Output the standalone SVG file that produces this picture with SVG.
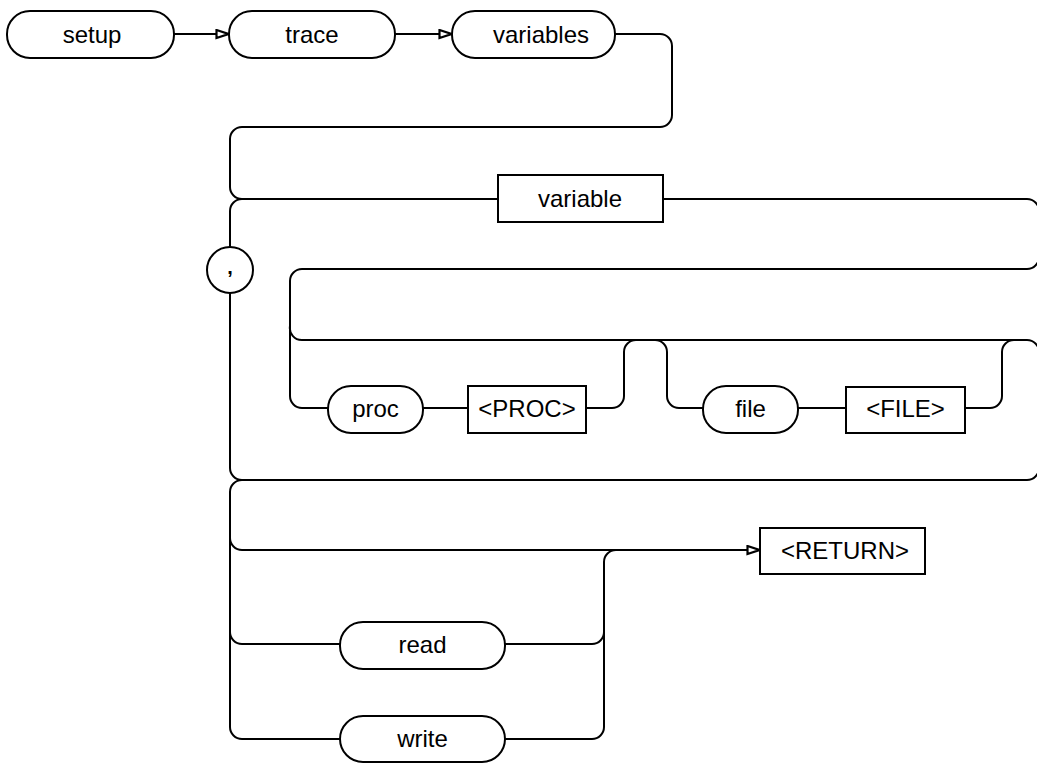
<svg xmlns="http://www.w3.org/2000/svg" width="1037" height="764" viewBox="0 0 1037 764">
  <style>
    .shape { fill: #fff; stroke: #000; stroke-width: 2; }
    .wire { fill: none; stroke: #000; stroke-width: 2; }
    .lbl { font-family: "Liberation Sans", Arial, sans-serif; font-size: 24px; fill: #000; text-anchor: middle; }
  </style>
  <defs>
    <marker id="arrow" viewBox="0 0 15 11" refX="14" refY="5.5" markerWidth="15" markerHeight="11" markerUnits="userSpaceOnUse" orient="auto">
      <path d="M1.5,1.5 L13.5,5.5 L1.5,9.5 Z" fill="#fff" stroke="#000" stroke-width="2.2" stroke-linejoin="miter"/>
    </marker>
  </defs>
  <rect width="1037" height="764" fill="#fff"/>

  <!-- connectors -->
  <g id="connectors" class="wire">
    <!-- top row -->
    <path d="M174,34 H229" marker-end="url(#arrow)"/>
    <path d="M395,34 H452" marker-end="url(#arrow)"/>
    <!-- wrap down from variables to the second row -->
    <path d="M615,34 H660 A12,12 0 0 1 672,46 V115 A12,12 0 0 1 660,127 H242 A12,12 0 0 0 230,139 V187 A12,12 0 0 0 242,199"/>
    <!-- variable line -->
    <path d="M242,199 H498"/>
    <path d="M663,199 H1027 A12,12 0 0 1 1039,211 V257 A12,12 0 0 1 1027,269"/>
    <!-- repeat loop with comma -->
    <path d="M242,199 A12,12 0 0 0 230,211 V247"/>
    <path d="M230,293 V468 A12,12 0 0 0 242,480"/>
    <!-- optional proc / file block -->
    <path d="M1027,269 H302 A12,12 0 0 0 290,281 V326 A12,12 0 0 0 302,340"/>
    <path d="M290,326 V396 A12,12 0 0 0 302,408 H328"/>
    <path d="M302,340 H1027 A12,12 0 0 1 1039,352 V468 A12,12 0 0 1 1027,480 H242"/>
    <path d="M423,408 H468"/>
    <path d="M586,408 H612 A12,12 0 0 0 624,396 V352 A12,12 0 0 1 636,340"/>
    <path d="M655,340 A12,12 0 0 1 667,352 V396 A12,12 0 0 0 679,408 H703"/>
    <path d="M798,408 H846"/>
    <path d="M965,408 H990 A12,12 0 0 0 1002,396 V352 A12,12 0 0 1 1014,340"/>
    <!-- final choice: nothing / read / write -->
    <path d="M242,480 A12,12 0 0 0 230,492 V727 A12,12 0 0 0 242,739 H340"/>
    <path d="M230,538 A12,12 0 0 0 242,550 H760" marker-end="url(#arrow)"/>
    <path d="M230,632 A12,12 0 0 0 242,644 H340"/>
    <path d="M505,644 H592 A12,12 0 0 0 604,632 V562 A12,12 0 0 1 616,550"/>
    <path d="M505,739 H592 A12,12 0 0 0 604,727 V632"/>
  </g>

  <!-- nodes -->
  <g id="setup">
    <rect class="shape" x="7" y="11" width="167" height="47" rx="23" ry="23"/>
    <text class="lbl" x="92" y="43">setup</text>
  </g>
  <g id="trace">
    <rect class="shape" x="229" y="11" width="166" height="47" rx="23" ry="23"/>
    <text class="lbl" x="312" y="43">trace</text>
  </g>
  <g id="variables">
    <rect class="shape" x="452" y="11" width="163" height="47" rx="23" ry="23"/>
    <text class="lbl" x="541" y="43">variables</text>
  </g>
  <g id="variable">
    <rect class="shape" x="498" y="175" width="165" height="47"/>
    <text class="lbl" x="580" y="207">variable</text>
  </g>
  <g id="comma">
    <circle class="shape" cx="230" cy="270" r="23"/>
    <text class="lbl" x="230" y="274" style="font-size:20px;font-weight:bold">,</text>
  </g>
  <g id="proc">
    <rect class="shape" x="328" y="386" width="95" height="47" rx="23" ry="23"/>
    <text class="lbl" x="375.5" y="417">proc</text>
  </g>
  <g id="proc-value">
    <rect class="shape" x="468" y="386" width="118" height="47"/>
    <text class="lbl" x="527" y="417">&lt;PROC&gt;</text>
  </g>
  <g id="file">
    <rect class="shape" x="703" y="386" width="95" height="47" rx="23" ry="23"/>
    <text class="lbl" x="750.5" y="417">file</text>
  </g>
  <g id="file-value">
    <rect class="shape" x="846" y="387" width="119" height="46"/>
    <text class="lbl" x="905.5" y="417">&lt;FILE&gt;</text>
  </g>
  <g id="return">
    <rect class="shape" x="760" y="528" width="165" height="46"/>
    <text class="lbl" x="845" y="559">&lt;RETURN&gt;</text>
  </g>
  <g id="read">
    <rect class="shape" x="340" y="622" width="165" height="47" rx="23" ry="23"/>
    <text class="lbl" x="422.5" y="653">read</text>
  </g>
  <g id="write">
    <rect class="shape" x="340" y="716" width="165" height="46" rx="23" ry="23"/>
    <text class="lbl" x="422.5" y="747">write</text>
  </g>
</svg>
